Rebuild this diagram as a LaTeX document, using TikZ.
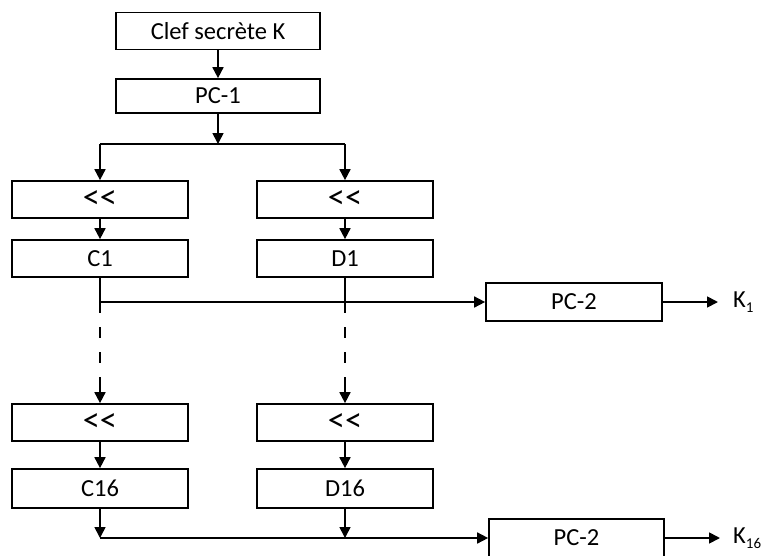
\documentclass[tikz,border=0pt]{standalone}
\usepackage{fontspec}
\usepackage{graphicx}
\newfontfamily\calfont{Carlito}
\usetikzlibrary{arrows.meta}
\newcommand{\subidx}[1]{\raisebox{-0.22em}{\fontsize{15}{18}\selectfont #1}}
\newcommand{\shl}{\scalebox{1.4}{<<}}
\begin{document}
\begin{tikzpicture}[x=1pt,y=-1pt,
  box/.style={draw,line width=1.7pt,minimum height=37pt,inner sep=0pt,font=\calfont\fontsize{24.5}{28}\selectfont},
  wbox/.style={box,minimum width=204pt},
  cbox/.style={box,minimum width=176pt},
  lbl/.style={inner sep=0pt,anchor=west,font=\calfont\fontsize{24.5}{28}\selectfont},
  ln/.style={line width=1.7pt},
  arr/.style={ln,-{Triangle[length=11pt,width=11pt]}},
  dashpat/.style={ln,dash pattern=on 11pt off 14pt}]
\useasboundingbox (0,0) rectangle (764,555);
\fill[white] (0,0) rectangle (764,555);
% nodes
\node[wbox] (key) at (218,31) {Clef secrète K};
\node[wbox,minimum height=34pt] (pc1) at (218,96) {PC-1};
\node[cbox] (sl1) at (100,199.5) {\shl};
\node[cbox] (sr1) at (345,199.5) {\shl};
\node[cbox] (c1) at (100,258.5) {C1};
\node[cbox] (d1) at (345,258.5) {D1};
\node[cbox,minimum height=38pt] (pc2a) at (574,302) {PC-2};
\node[lbl] (k1) at (733,302) {K\subidx{1}};
\node[cbox] (sl16) at (100,422.5) {\shl};
\node[cbox] (sr16) at (345,422.5) {\shl};
\node[cbox,minimum height=39pt] (c16) at (100,488.5) {C16};
\node[cbox,minimum height=39pt] (d16) at (345,488.5) {D16};
\node[cbox,minimum height=38pt,minimum width=175pt] (pc2b) at (576.5,538) {PC-2};
\node[lbl] (k16) at (733,538) {K\subidx{16}};
% coordinates
\coordinate (jt) at (218,144);
\coordinate (jtl) at (100,144);
\coordinate (jtr) at (345,144);
\coordinate (jl1) at (100,302);
\coordinate (jr1) at (345,302);
\coordinate (dl) at (100,377);
\coordinate (dr) at (345,377);
\coordinate (jl16) at (100,538);
\coordinate (jr16) at (345,538);
% connectors
\draw[arr] (key) -- (pc1);
\draw[arr] (pc1) -- (jt);
\draw[ln] (jtl) -- (jtr);
\draw[arr] (jtl) -- (sl1);
\draw[arr] (jtr) -- (sr1);
\draw[arr] (sl1) -- (c1);
\draw[arr] (sr1) -- (d1);
\draw[ln] (c1) -- (jl1);
\draw[ln] (d1) -- (jr1);
\draw[arr] (jl1) -- (pc2a);
\draw[arr,shorten >=15pt] (pc2a) -- (k1);
\draw[dashpat] (jl1) -- (dl);
\draw[dashpat] (jr1) -- (dr);
\draw[arr] (dl) -- (sl16);
\draw[arr] (dr) -- (sr16);
\draw[arr] (sl16) -- (c16);
\draw[arr] (sr16) -- (d16);
\draw[arr] (c16) -- (jl16);
\draw[arr] (d16) -- (jr16);
\draw[arr] (jl16) -- (pc2b);
\draw[arr,shorten >=13pt] (pc2b) -- (k16);
\end{tikzpicture}
\end{document}
